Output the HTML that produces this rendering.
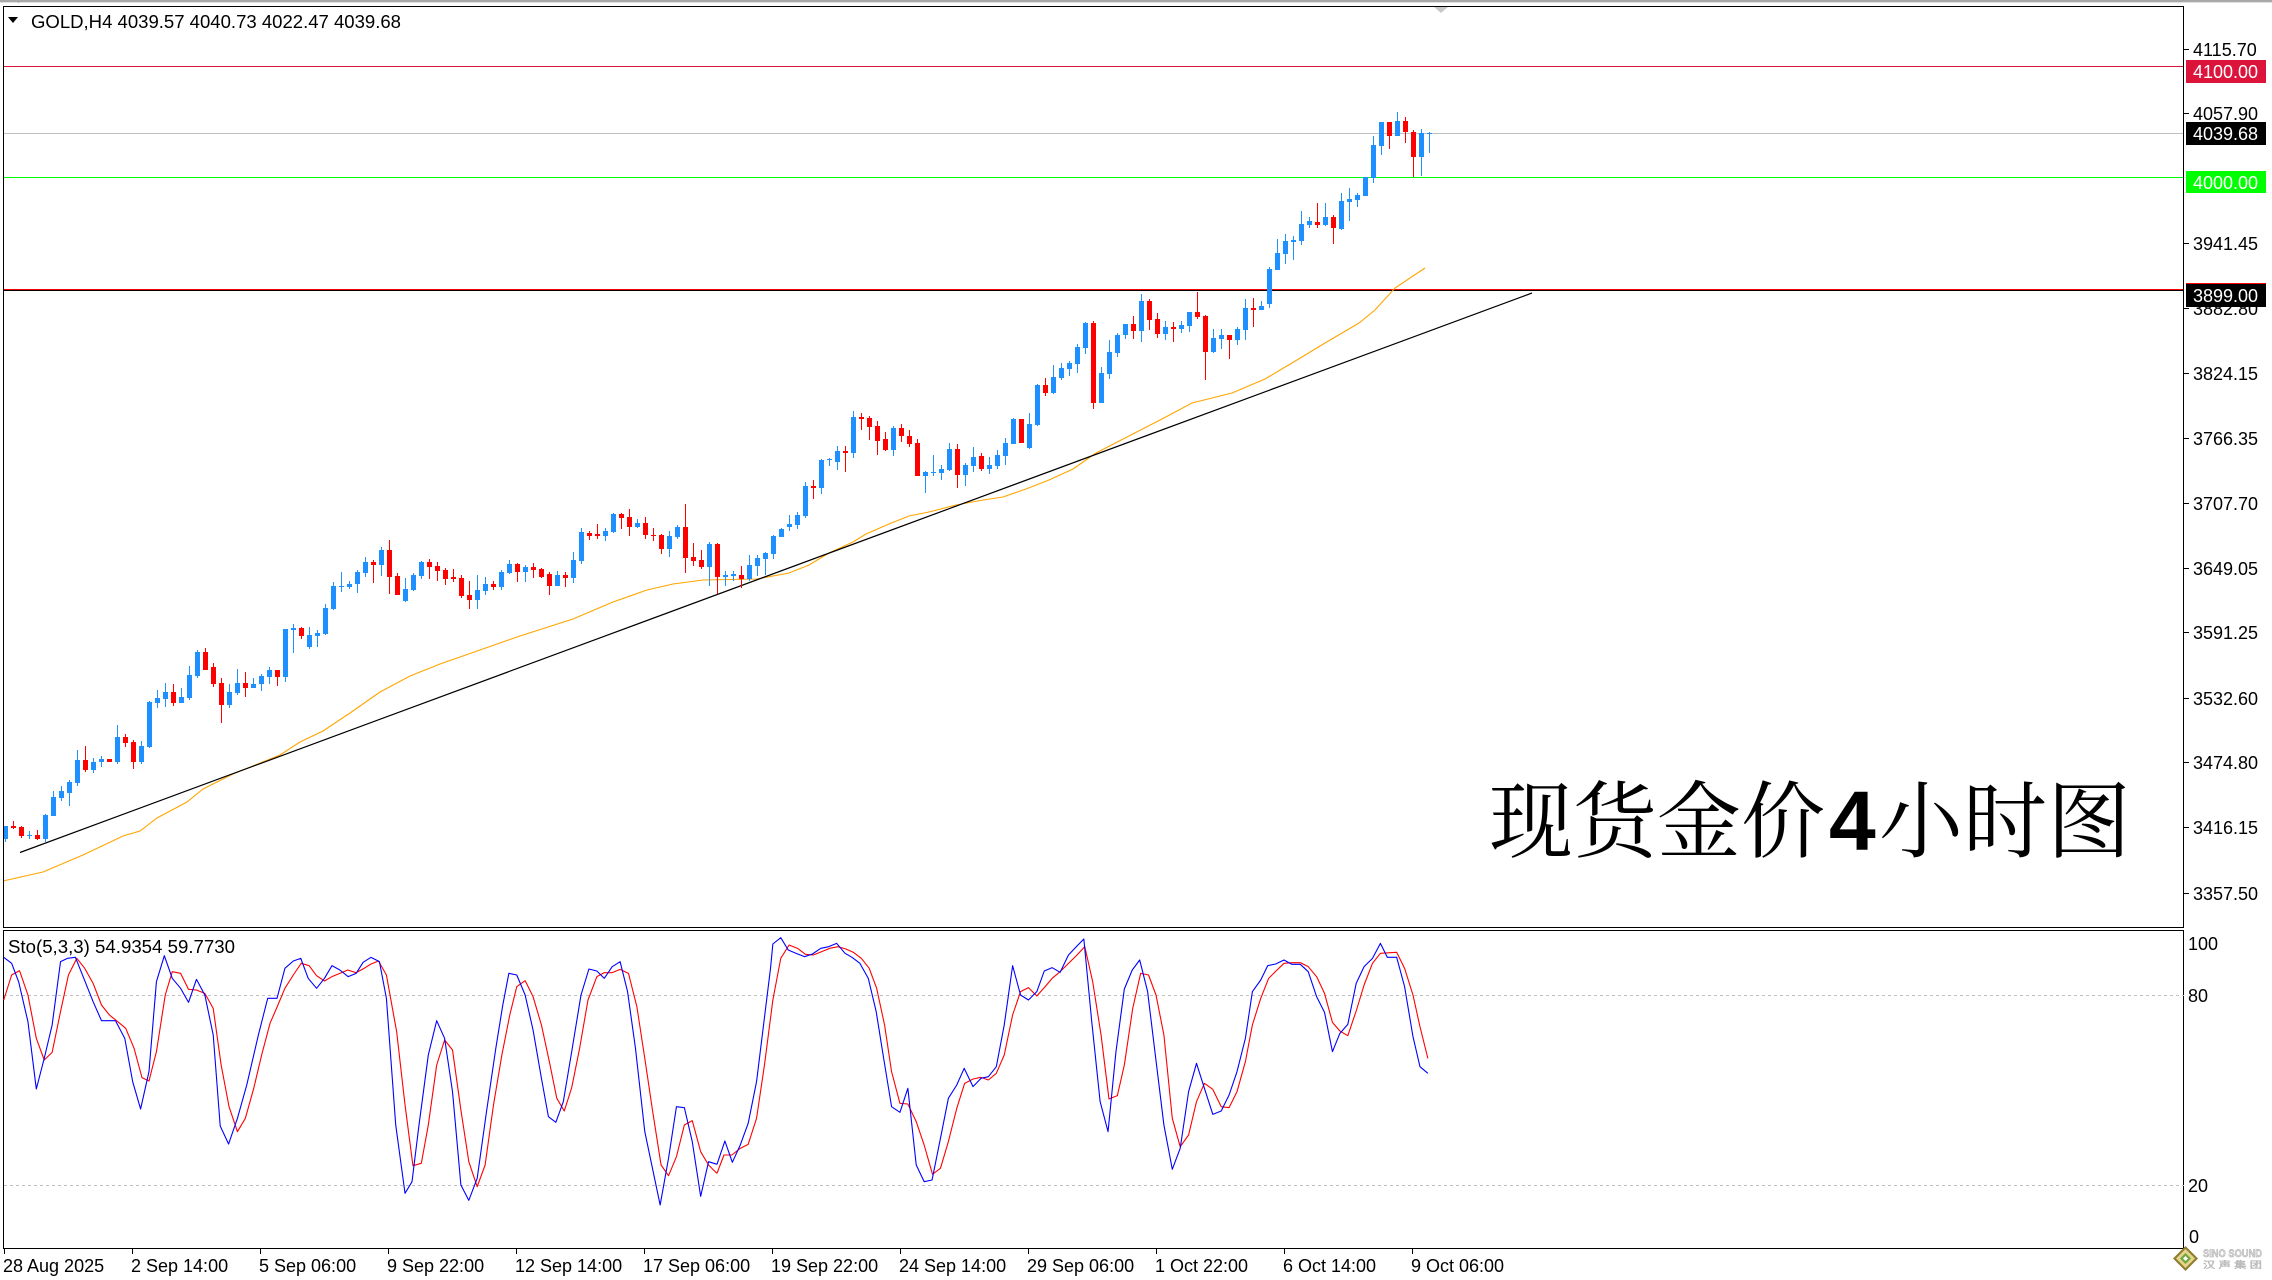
<!DOCTYPE html>
<html>
<head>
<meta charset="utf-8">
<style>
html,body{margin:0;padding:0;background:#fff;}
svg{display:block;}
text{font-family:"Liberation Sans",sans-serif;}
</style>
</head>
<body>
<svg width="2272" height="1280" viewBox="0 0 2272 1280" xmlns="http://www.w3.org/2000/svg">
<rect x="0" y="0" width="2272" height="1280" fill="#fff"/>
<!-- top gray bar -->
<rect x="0" y="0" width="2272" height="2" fill="#a8a8a8"/>
<rect x="0" y="2" width="2272" height="1" fill="#e0e0e0"/>
<rect x="18" y="0" width="1" height="3" fill="#a8a8a8"/>
<!-- shift marker -->
<polygon points="1433,6 1449,6 1441,13" fill="#c8c8c8"/>

<!-- horizontal price lines -->
<g shape-rendering="crispEdges">
<rect x="3" y="66" width="2181" height="1" fill="#DC143C"/>
<rect x="3" y="133" width="2181" height="1" fill="#C0C0C0"/>
<rect x="3" y="177" width="2181" height="1" fill="#00FF00"/>
<rect x="3" y="289" width="2181" height="1" fill="#ff0000"/>
<rect x="3" y="290" width="2181" height="1" fill="#000"/>
</g>

<!-- moving average -->
<polyline fill="none" stroke="#FFA500" stroke-width="1.1" points="3,881 43,872 83,855 123,836 140,831 157,818 187,802 203,789 233,774 280,755 300,742 323,731 350,713 380,692 410,676 440,664 480,650 520,636 573,619 613,602 647,590 673,584 703,580 757,579 789,573 809,565 829,553 853,542 866,534 889,524 909,516 929,512 956,505 983,500 1003,497 1026,489 1049,480 1073,469 1096,453 1162,419 1192,403 1232,393 1265,379 1292,363 1325,343 1359,323 1375,310 1395,288 1425,268"/>
<!-- trendline -->
<line x1="20" y1="852.5" x2="1532" y2="293" stroke="#000" stroke-width="1.2"/>

<!-- candles blue -->
<path shape-rendering="crispEdges" fill="#1E90FF" d="M5 826h1v16h-1zM3 826h5v13h-5zM29 831h1v8h-1zM27 835h5v1h-5zM45 814h1v28h-1zM43 815h5v24h-5zM53 791h1v25h-1zM51 797h5v19h-5zM61 786h1v15h-1zM59 791h5v7h-5zM69 780h1v26h-1zM67 782h5v11h-5zM77 750h1v36h-1zM75 760h5v23h-5zM93 758h1v15h-1zM91 762h5v8h-5zM101 756h1v11h-1zM99 759h5v3h-5zM117 725h1v39h-1zM115 737h5v25h-5zM141 741h1v23h-1zM139 746h5v16h-5zM149 701h1v47h-1zM147 702h5v45h-5zM157 690h1v18h-1zM155 698h5v5h-5zM165 683h1v24h-1zM163 692h5v7h-5zM181 688h1v15h-1zM179 697h5v6h-5zM189 666h1v34h-1zM187 675h5v23h-5zM197 650h1v28h-1zM195 652h5v24h-5zM229 684h1v24h-1zM227 692h5v13h-5zM237 669h1v26h-1zM235 683h5v10h-5zM253 678h1v10h-1zM251 684h5v4h-5zM261 674h1v17h-1zM259 676h5v8h-5zM269 667h1v17h-1zM267 670h5v7h-5zM285 629h1v53h-1zM283 629h5v48h-5zM293 624h1v29h-1zM291 628h5v2h-5zM309 627h1v22h-1zM307 635h5v12h-5zM317 630h1v17h-1zM315 633h5v3h-5zM325 604h1v31h-1zM323 608h5v26h-5zM333 582h1v28h-1zM331 586h5v23h-5zM341 572h1v20h-1zM339 586h5v1h-5zM349 581h1v8h-1zM347 584h5v3h-5zM357 570h1v23h-1zM355 572h5v12h-5zM365 557h1v20h-1zM363 562h5v11h-5zM381 547h1v29h-1zM379 550h5v15h-5zM405 578h1v24h-1zM403 589h5v12h-5zM413 573h1v18h-1zM411 575h5v15h-5zM421 561h1v18h-1zM419 562h5v14h-5zM477 575h1v34h-1zM475 590h5v10h-5zM485 577h1v18h-1zM483 584h5v7h-5zM501 570h1v20h-1zM499 572h5v15h-5zM509 560h1v14h-1zM507 564h5v9h-5zM525 565h1v17h-1zM523 567h5v5h-5zM557 571h1v15h-1zM555 575h5v11h-5zM573 552h1v31h-1zM571 560h5v18h-5zM581 528h1v36h-1zM579 532h5v29h-5zM605 528h1v13h-1zM603 531h5v5h-5zM613 513h1v20h-1zM611 514h5v18h-5zM637 519h1v9h-1zM635 523h5v4h-5zM669 531h1v26h-1zM667 536h5v13h-5zM677 525h1v14h-1zM675 527h5v10h-5zM709 542h1v44h-1zM707 544h5v23h-5zM725 571h1v15h-1zM723 575h5v2h-5zM733 571h1v10h-1zM731 574h5v2h-5zM749 555h1v26h-1zM747 565h5v14h-5zM757 555h1v21h-1zM755 558h5v8h-5zM765 552h1v23h-1zM763 553h5v6h-5zM773 535h1v24h-1zM771 536h5v18h-5zM781 528h1v9h-1zM779 529h5v8h-5zM789 515h1v16h-1zM787 524h5v3h-5zM797 512h1v17h-1zM795 515h5v10h-5zM805 482h1v36h-1zM803 486h5v30h-5zM821 459h1v35h-1zM819 460h5v28h-5zM829 458h1v8h-1zM827 459h5v1h-5zM837 446h1v24h-1zM835 451h5v11h-5zM853 411h1v47h-1zM851 417h5v36h-5zM893 426h1v30h-1zM891 428h5v22h-5zM925 471h1v22h-1zM923 472h5v4h-5zM933 455h1v21h-1zM931 472h5v1h-5zM941 465h1v15h-1zM939 469h5v4h-5zM949 443h1v28h-1zM947 449h5v21h-5zM965 463h1v23h-1zM963 465h5v10h-5zM973 447h1v25h-1zM971 457h5v9h-5zM989 457h1v17h-1zM987 465h5v4h-5zM997 450h1v19h-1zM995 455h5v11h-5zM1005 438h1v27h-1zM1003 443h5v13h-5zM1013 418h1v26h-1zM1011 419h5v25h-5zM1029 413h1v36h-1zM1027 424h5v24h-5zM1037 384h1v42h-1zM1035 385h5v40h-5zM1053 365h1v29h-1zM1051 377h5v16h-5zM1061 363h1v17h-1zM1059 368h5v10h-5zM1069 361h1v15h-1zM1067 363h5v6h-5zM1077 344h1v29h-1zM1075 347h5v17h-5zM1085 322h1v32h-1zM1083 323h5v25h-5zM1101 367h1v36h-1zM1099 373h5v30h-5zM1109 340h1v39h-1zM1107 352h5v22h-5zM1117 333h1v24h-1zM1115 335h5v18h-5zM1125 324h1v15h-1zM1123 324h5v11h-5zM1141 294h1v48h-1zM1139 301h5v30h-5zM1165 321h1v19h-1zM1163 327h5v7h-5zM1181 321h1v12h-1zM1179 325h5v4h-5zM1189 312h1v20h-1zM1187 312h5v14h-5zM1213 329h1v24h-1zM1211 338h5v14h-5zM1221 329h1v20h-1zM1219 335h5v4h-5zM1237 327h1v18h-1zM1235 329h5v11h-5zM1245 299h1v41h-1zM1243 308h5v22h-5zM1261 301h1v9h-1zM1259 306h5v4h-5zM1269 267h1v41h-1zM1267 269h5v35h-5zM1277 239h1v31h-1zM1275 253h5v17h-5zM1285 234h1v30h-1zM1283 241h5v13h-5zM1293 236h1v24h-1zM1291 240h5v2h-5zM1301 211h1v34h-1zM1299 224h5v17h-5zM1309 217h1v11h-1zM1307 221h5v4h-5zM1325 203h1v23h-1zM1323 217h5v8h-5zM1341 193h1v37h-1zM1339 201h5v28h-5zM1349 188h1v33h-1zM1347 199h5v3h-5zM1357 193h1v14h-1zM1355 195h5v5h-5zM1365 177h1v19h-1zM1363 177h5v19h-5zM1373 136h1v47h-1zM1371 145h5v33h-5zM1381 122h1v33h-1zM1379 122h5v24h-5zM1397 112h1v24h-1zM1395 121h5v15h-5zM1421 129h1v47h-1zM1419 133h5v24h-5zM1429 132h1v21h-1zM1427 133h5v1h-5z"/>
<!-- candles red -->
<path shape-rendering="crispEdges" fill="#FF0000" d="M13 821h1v8h-1zM11 826h5v2h-5zM21 826h1v12h-1zM19 827h5v9h-5zM37 830h1v10h-1zM35 835h5v4h-5zM85 746h1v26h-1zM83 760h5v10h-5zM109 759h1v3h-1zM107 759h5v3h-5zM125 734h1v13h-1zM123 737h5v6h-5zM133 740h1v29h-1zM131 742h5v20h-5zM173 684h1v22h-1zM171 692h5v11h-5zM205 648h1v22h-1zM203 652h5v18h-5zM213 663h1v24h-1zM211 667h5v17h-5zM221 678h1v45h-1zM219 683h5v22h-5zM245 672h1v25h-1zM243 683h5v5h-5zM277 670h1v16h-1zM275 670h5v7h-5zM301 627h1v12h-1zM299 628h5v8h-5zM373 560h1v23h-1zM371 562h5v3h-5zM389 540h1v54h-1zM387 550h5v27h-5zM397 573h1v22h-1zM395 576h5v19h-5zM429 559h1v20h-1zM427 562h5v5h-5zM437 562h1v19h-1zM435 566h5v5h-5zM445 568h1v17h-1zM443 570h5v9h-5zM453 569h1v13h-1zM451 577h5v2h-5zM461 575h1v23h-1zM459 578h5v18h-5zM469 581h1v28h-1zM467 595h5v5h-5zM493 581h1v9h-1zM491 584h5v3h-5zM517 563h1v19h-1zM515 564h5v8h-5zM533 563h1v15h-1zM531 567h5v3h-5zM541 568h1v10h-1zM539 569h5v8h-5zM549 572h1v23h-1zM547 574h5v12h-5zM565 572h1v15h-1zM563 575h5v3h-5zM589 531h1v9h-1zM587 533h5v3h-5zM597 524h1v15h-1zM595 534h5v2h-5zM621 513h1v16h-1zM619 514h5v4h-5zM629 509h1v27h-1zM627 517h5v10h-5zM645 517h1v22h-1zM643 523h5v12h-5zM653 528h1v13h-1zM651 535h5v1h-5zM661 534h1v20h-1zM659 535h5v14h-5zM685 504h1v69h-1zM683 527h5v31h-5zM693 543h1v23h-1zM691 557h5v4h-5zM701 550h1v19h-1zM699 560h5v7h-5zM717 543h1v51h-1zM715 544h5v33h-5zM741 566h1v22h-1zM739 575h5v4h-5zM813 480h1v19h-1zM811 486h5v2h-5zM845 446h1v26h-1zM843 451h5v2h-5zM861 413h1v17h-1zM859 417h5v2h-5zM869 416h1v24h-1zM867 418h5v9h-5zM877 421h1v34h-1zM875 426h5v15h-5zM885 432h1v19h-1zM883 439h5v11h-5zM901 424h1v18h-1zM899 428h5v8h-5zM909 430h1v17h-1zM907 436h5v8h-5zM917 439h1v37h-1zM915 443h5v33h-5zM957 444h1v44h-1zM955 449h5v26h-5zM981 453h1v18h-1zM979 456h5v13h-5zM1021 419h1v24h-1zM1019 419h5v24h-5zM1045 378h1v18h-1zM1043 385h5v8h-5zM1093 321h1v88h-1zM1091 323h5v80h-5zM1133 316h1v23h-1zM1131 324h5v7h-5zM1149 299h1v31h-1zM1147 301h5v19h-5zM1157 313h1v25h-1zM1155 319h5v15h-5zM1173 322h1v20h-1zM1171 327h5v2h-5zM1197 292h1v27h-1zM1195 312h5v5h-5zM1205 315h1v65h-1zM1203 316h5v36h-5zM1229 335h1v24h-1zM1227 335h5v5h-5zM1253 298h1v29h-1zM1251 308h5v2h-5zM1317 203h1v25h-1zM1315 222h5v3h-5zM1333 215h1v29h-1zM1331 217h5v11h-5zM1389 122h1v27h-1zM1387 122h5v14h-5zM1405 117h1v26h-1zM1403 121h5v11h-5zM1413 130h1v47h-1zM1411 132h5v25h-5z"/>

<!-- header -->
<polygon points="8,17 18,17 13,23" fill="#000"/>
<text x="31" y="28" font-size="18" fill="#000" textLength="370" lengthAdjust="spacingAndGlyphs">GOLD,H4  4039.57 4040.73 4022.47 4039.68</text>

<!-- chinese title -->
<text x="1489" y="851" font-size="84" fill="#000" style='font-family:"Liberation Serif","Noto Serif CJK SC",serif'>现货金价</text>
<text x="1829" y="850" font-size="84" font-weight="bold" fill="#000" style='font-family:"Liberation Sans",sans-serif'>4</text>
<text x="1879" y="851" font-size="84" fill="#000" style='font-family:"Liberation Serif","Noto Serif CJK SC",serif'>小时图</text>

<!-- borders -->
<g shape-rendering="crispEdges" fill="none" stroke="#000" stroke-width="1">
<rect x="3.5" y="6.5" width="2180" height="921"/>
<rect x="3.5" y="930.5" width="2180" height="318"/>
</g>

<!-- price axis ticks -->
<g stroke="#000" stroke-width="1" shape-rendering="crispEdges">
<line x1="2184" y1="49.5" x2="2189" y2="49.5"/>
<line x1="2184" y1="113.5" x2="2189" y2="113.5"/>
<line x1="2184" y1="243.5" x2="2189" y2="243.5"/>
<line x1="2184" y1="308.5" x2="2189" y2="308.5"/>
<line x1="2184" y1="373.5" x2="2189" y2="373.5"/>
<line x1="2184" y1="438.5" x2="2189" y2="438.5"/>
<line x1="2184" y1="503.5" x2="2189" y2="503.5"/>
<line x1="2184" y1="568.5" x2="2189" y2="568.5"/>
<line x1="2184" y1="632.5" x2="2189" y2="632.5"/>
<line x1="2184" y1="698.5" x2="2189" y2="698.5"/>
<line x1="2184" y1="762.5" x2="2189" y2="762.5"/>
<line x1="2184" y1="827.5" x2="2189" y2="827.5"/>
<line x1="2184" y1="893.5" x2="2189" y2="893.5"/>
</g>
<g font-size="18" fill="#000">
<text x="2193" y="56">4115.70</text>
<text x="2193" y="120">4057.90</text>
<text x="2193" y="250">3941.45</text>
<text x="2193" y="315">3882.80</text>
<text x="2193" y="380">3824.15</text>
<text x="2193" y="445">3766.35</text>
<text x="2193" y="510">3707.70</text>
<text x="2193" y="575">3649.05</text>
<text x="2193" y="639">3591.25</text>
<text x="2193" y="705">3532.60</text>
<text x="2193" y="769">3474.80</text>
<text x="2193" y="834">3416.15</text>
<text x="2193" y="900">3357.50</text>
</g>
<!-- price boxes -->
<g shape-rendering="crispEdges">
<rect x="2186" y="60" width="80" height="23" fill="#DC143C"/>
<rect x="2186" y="122" width="80" height="23" fill="#000"/>
<rect x="2186" y="171" width="80" height="22" fill="#00FF00"/>
<rect x="2186" y="283" width="80" height="24" fill="#000"/>
<rect x="2186" y="283" width="80" height="1" fill="#ff0000"/>
</g>
<g font-size="18" fill="#fff">
<text x="2193" y="78">4100.00</text>
<text x="2193" y="140">4039.68</text>
<text x="2193" y="189">4000.00</text>
<text x="2193" y="302">3899.00</text>
</g>

<!-- stochastic panel -->
<g stroke="#C0C0C0" stroke-width="1" stroke-dasharray="3,3" shape-rendering="crispEdges">
<line x1="4" y1="995.5" x2="2184" y2="995.5"/>
<line x1="4" y1="1185.5" x2="2184" y2="1185.5"/>
</g>
<text x="8" y="953" font-size="18" fill="#000" textLength="227" lengthAdjust="spacingAndGlyphs">Sto(5,3,3) 54.9354 59.7730</text>
<g fill="none" stroke-linejoin="round">
<polyline transform="translate(0,925) scale(0.46555,0.333333)" vector-effect="non-scaling-stroke" stroke="#FF0000" stroke-width="1.1" points="8,225 25,150 42,137 60,210 78,340 95,405 112,382 130,260 147,150 165,100 182,130 200,175 218,240 235,270 253,290 270,310 288,370 305,458 320,468 336,380 355,210 370,140 388,145 405,193 422,195 440,205 458,250 475,420 492,545 510,620 527,580 545,490 562,390 580,295 597,240 612,190 630,150 647,115 664,122 680,152 697,168 713,155 730,145 747,135 765,143 782,130 797,117 813,108 830,150 852,320 870,540 887,722 905,715 920,600 938,420 955,345 972,375 990,555 1007,710 1025,785 1042,720 1060,540 1078,390 1095,270 1110,185 1128,167 1145,215 1163,300 1180,410 1196,520 1212,558 1228,488 1245,370 1263,225 1282,155 1298,143 1315,143 1332,133 1350,145 1368,245 1385,400 1402,560 1420,720 1436,752 1453,695 1470,600 1487,587 1505,680 1522,720 1540,745"/>
<polyline transform="translate(710,925) scale(0.46555,0.333333)" vector-effect="non-scaling-stroke" stroke="#FF0000" stroke-width="1.1" points="15,745 30,690 47,690 65,670 82,658 100,580 117,420 135,225 152,100 170,60 188,70 205,88 222,90 240,80 257,70 275,65 292,72 308,82 325,100 342,130 358,190 375,300 390,440 408,535 425,537 443,590 460,660 478,748 495,730 512,650 530,550 547,475 565,462 582,457 598,465 615,445 632,390 650,270 667,200 684,188 702,213 718,188 735,160 752,140 770,115 787,92 805,65 822,170 840,330 857,522 875,512 890,420 908,250 925,145 942,150 958,210 975,330 993,580 1010,665 1028,630 1045,530 1062,475 1080,493 1098,545 1115,548 1132,500 1150,410 1165,300 1183,220 1200,160 1218,135 1233,115 1250,113 1268,113 1285,125 1303,155 1320,205 1337,292 1353,318 1370,332 1388,258 1405,180 1423,115 1440,85 1475,82 1492,130 1510,210 1525,305 1542,400"/>
<polyline transform="translate(0,925) scale(0.46555,0.333333)" vector-effect="non-scaling-stroke" stroke="#0000FF" stroke-width="1.1" points="8,97 25,115 40,170 60,290 78,492 95,400 112,300 130,110 145,100 162,97 180,160 200,230 218,287 248,287 268,340 285,470 302,552 320,440 336,170 353,92 370,160 388,190 405,232 422,163 440,210 458,330 473,603 491,657 510,580 530,480 555,330 575,220 595,220 612,130 630,108 646,100 662,160 680,190 697,160 713,122 730,135 748,155 765,145 780,112 797,97 815,110 830,220 850,600 870,805 885,770 900,600 920,390 938,287 955,340 972,500 990,780 1007,826 1025,760 1045,560 1065,370 1080,240 1093,145 1110,150 1128,210 1145,315 1163,460 1178,575 1194,592 1210,530 1228,380 1248,210 1265,132 1282,138 1298,160 1315,125 1332,110 1348,200 1365,370 1385,620 1400,720 1418,840 1436,700 1453,545 1470,548 1487,650 1505,814 1522,710 1540,718"/>
<polyline transform="translate(710,925) scale(0.46555,0.333333)" vector-effect="non-scaling-stroke" stroke="#0000FF" stroke-width="1.1" points="15,718 32,648 48,712 65,660 82,595 100,470 115,300 130,130 135,57 152,38 168,75 185,85 203,95 220,87 238,70 255,65 272,55 290,85 305,97 322,115 340,160 357,260 373,400 390,545 408,562 425,490 443,720 460,770 477,765 495,640 512,520 530,480 546,430 565,485 582,460 598,455 615,425 632,300 650,122 667,210 684,225 702,200 718,138 735,128 752,142 770,90 787,65 803,42 820,290 838,530 855,620 872,380 890,192 907,135 923,105 940,200 957,395 975,600 993,733 1010,670 1028,500 1045,415 1062,490 1080,568 1098,558 1115,510 1132,440 1150,340 1165,200 1183,165 1198,122 1215,117 1233,105 1250,118 1268,118 1285,140 1303,215 1320,262 1337,380 1353,325 1370,298 1388,175 1405,125 1423,100 1440,55 1455,97 1475,97 1492,185 1510,335 1525,425 1542,445"/>
</g>
<g font-size="18" fill="#000">
<text x="2188" y="950">100</text>
<text x="2188" y="1002">80</text>
<text x="2188" y="1192">20</text>
<text x="2189" y="1243">0</text>
</g>

<!-- time axis -->
<g stroke="#000" stroke-width="1" shape-rendering="crispEdges">
<line x1="4.5" y1="1249" x2="4.5" y2="1254"/>
<line x1="132.5" y1="1249" x2="132.5" y2="1254"/>
<line x1="260.5" y1="1249" x2="260.5" y2="1254"/>
<line x1="388.5" y1="1249" x2="388.5" y2="1254"/>
<line x1="516.5" y1="1249" x2="516.5" y2="1254"/>
<line x1="644.5" y1="1249" x2="644.5" y2="1254"/>
<line x1="772.5" y1="1249" x2="772.5" y2="1254"/>
<line x1="900.5" y1="1249" x2="900.5" y2="1254"/>
<line x1="1028.5" y1="1249" x2="1028.5" y2="1254"/>
<line x1="1156.5" y1="1249" x2="1156.5" y2="1254"/>
<line x1="1284.5" y1="1249" x2="1284.5" y2="1254"/>
<line x1="1412.5" y1="1249" x2="1412.5" y2="1254"/>
</g>
<g font-size="18" fill="#000">
<text x="3" y="1272">28 Aug 2025</text>
<text x="131" y="1272">2 Sep 14:00</text>
<text x="259" y="1272">5 Sep 06:00</text>
<text x="387" y="1272">9 Sep 22:00</text>
<text x="515" y="1272">12 Sep 14:00</text>
<text x="643" y="1272">17 Sep 06:00</text>
<text x="771" y="1272">19 Sep 22:00</text>
<text x="899" y="1272">24 Sep 14:00</text>
<text x="1027" y="1272">29 Sep 06:00</text>
<text x="1155" y="1272">1 Oct 22:00</text>
<text x="1283" y="1272">6 Oct 14:00</text>
<text x="1411" y="1272">9 Oct 06:00</text>
</g>

<!-- watermark -->
<g>
<polygon points="2185.5,1246 2198,1258.5 2185.5,1271 2173,1258.5" fill="#8f7d30"/>
<polygon points="2185.5,1249 2195,1258.5 2185.5,1268 2176,1258.5" fill="#e6d48a"/>
<polygon points="2185.5,1253 2191,1258.5 2185.5,1264 2180,1258.5" fill="#6fa640"/>
<polygon points="2185.5,1256 2188,1258.5 2185.5,1261 2183,1258.5" fill="#fff"/>
<text x="2203" y="1257" font-size="11" font-weight="bold" fill="#d8d8d8" stroke="#a0a0a0" stroke-width="0.4" textLength="59" lengthAdjust="spacingAndGlyphs">SINO SOUND</text>
<text x="2203" y="1268" font-size="9" fill="#d0d0d0" stroke="#a0a0a0" stroke-width="0.3" textLength="59" lengthAdjust="spacingAndGlyphs" style='font-family:"Liberation Sans","Noto Sans CJK SC",sans-serif'>汉 声 集 团</text>
</g>
</svg>
</body>
</html>
